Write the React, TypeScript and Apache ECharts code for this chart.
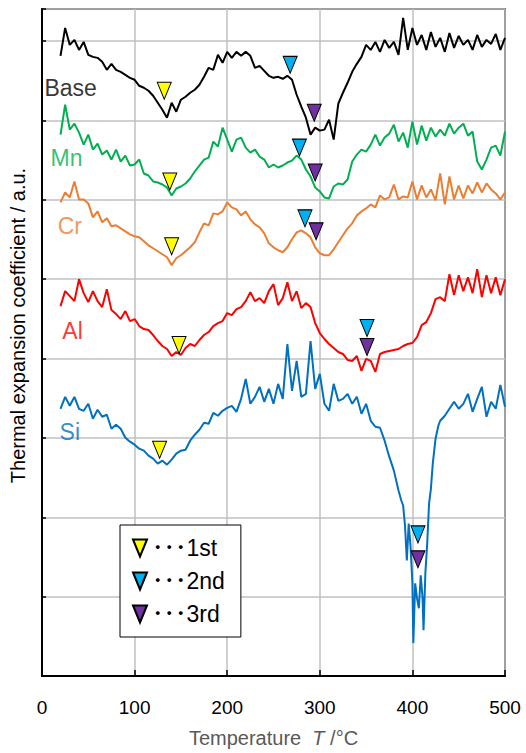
import React, { useEffect, useRef } from "react";
import * as echarts from "echarts";

// Temperatures (°C) shared by Base, Mn, Cr, Al
const temps = [
  20, 25, 30, 35, 40, 45, 50, 55, 60, 65,
  70, 75, 80, 85, 90, 95, 100, 105, 110, 115,
  120, 125, 130, 135, 140, 145, 150, 155, 160, 165,
  170, 175, 180, 185, 190, 195, 200, 205, 210, 215,
  220, 225, 230, 235, 240, 245, 250, 255, 260, 265,
  270, 275, 280, 285, 290, 295, 300, 305, 310, 315,
  320, 325, 330, 335, 340, 345, 350, 355, 360, 365,
  370, 375, 380, 385, 390, 395, 400, 405, 410, 415,
  420, 425, 430, 435, 440, 445, 450, 455, 460, 465,
  470, 475, 480, 485, 490, 495, 500,
];

// Thermal expansion coefficient (a.u., curves offset vertically)
const baseVals = [
  622, 650, 633, 638, 628, 636, 623, 621, 620, 616,
  608, 614, 608, 606, 603, 600, 598, 592, 590, 587,
  582, 575, 568, 560, 575, 566, 578, 581, 585, 588,
  593, 601, 610, 608, 623, 615, 626, 620, 626, 622,
  626, 622, 610, 612, 607, 602, 600, 601, 599, 602,
  598, 583, 571, 560, 543, 550, 547, 548, 558, 538,
  574, 585, 595, 606, 614, 621, 633, 628, 636, 626,
  638, 630, 636, 623, 660, 628, 650, 633, 643, 628,
  646, 631, 640, 626, 645, 630, 642, 633, 638, 628,
  643, 631, 638, 634, 644, 628, 640,
];

const mnVals = [
  543, 573, 548, 554, 545, 533, 543, 528, 534, 523,
  527, 518, 528, 516, 522, 512, 513, 518, 504, 502,
  496, 495, 493, 490, 482, 489, 491, 494, 499, 506,
  512, 518, 520, 536, 531, 550, 538, 526, 538, 540,
  530, 525, 528, 521, 518, 510, 513, 510, 512, 515,
  517, 522, 518, 508, 501, 490, 486, 480, 479, 491,
  494, 493, 498, 516, 523, 528, 526, 533, 543, 532,
  540, 544, 553, 536, 545, 530, 556, 533, 552, 537,
  550, 541, 548, 542, 554, 544, 550, 554, 542, 546,
  516, 508, 518, 530, 532, 522, 546,
];

const crVals = [
  475, 485, 480, 496, 478, 478, 474, 460, 466, 455,
  459, 451, 452, 449, 446, 443, 441, 440, 436, 432,
  429, 426, 423, 420, 412, 419, 422, 426, 430, 435,
  445, 454, 452, 464, 463, 466, 475, 470, 468, 462,
  466, 458, 453, 450, 444, 434, 430, 427, 425, 430,
  438, 445, 447, 444, 440, 430, 424, 422, 422, 428,
  435, 442, 449, 454, 462, 466, 469, 473, 470, 482,
  478, 480, 493, 478, 481, 480, 496, 478, 492, 480,
  488, 477, 504, 473, 501, 478, 492, 479, 492, 484,
  495, 485, 494, 488, 484, 478, 485,
];

const alVals = [
  371, 386, 381, 376, 398, 384, 375, 386, 376, 370,
  388, 367, 363, 358, 366, 356, 358, 351, 348, 347,
  342, 336, 331, 328, 321, 325, 322, 329, 333, 331,
  337, 342, 345, 351, 354, 356, 364, 362, 368, 370,
  376, 385, 376, 379, 374, 386, 393, 372, 379, 395,
  376, 386, 369, 374, 370, 354, 344, 338, 333, 329,
  325, 323, 317, 316, 321, 306, 318, 316, 305, 323,
  325, 326, 327, 328, 331, 333, 334, 340, 352, 355,
  364, 378, 380, 376, 403, 382, 402, 386, 400, 384,
  408, 380, 402, 384, 400, 382, 398,
];

// Si has its own, finer temperature grid around the deep dip
const siTemps = [
  20, 25, 30, 35, 40, 45, 50, 55, 60, 65,
  70, 75, 80, 85, 90, 95, 100, 105, 110, 115,
  120, 125, 130, 135, 140, 145, 150, 155, 160, 165,
  170, 175, 180, 185, 190, 195, 200, 205, 210, 215,
  220, 225, 230, 235, 240, 245, 250, 255, 260, 265,
  270, 275, 280, 285, 290, 295, 300, 305, 310, 315,
  320, 325, 330, 335, 340, 345, 350, 355, 360, 365,
  370, 375, 380,
  385, 388, 390, 392, 394, 396, 398, 400, 401, 403,
  405, 407, 409, 411, 412, 414, 416, 418, 420, 422,
  425, 428, 430,
  435, 440, 445, 450, 455, 460, 465, 470, 475, 480,
  485, 490, 495, 500,
];

const siVals = [
  268, 280, 271, 280, 268, 266, 273, 258, 267, 260,
  262, 248, 252, 248, 239, 235, 232, 228, 226, 221,
  218, 213, 216, 212, 217, 223, 226, 227, 236, 242,
  247, 254, 253, 264, 261, 266, 269, 271, 265, 278,
  298, 273, 280, 290, 275, 288, 273, 293, 278, 333,
  286, 316, 280, 283, 336, 288, 303, 273, 266, 293,
  276, 278, 283, 273, 280, 263, 273, 256, 250, 249,
  236, 220, 206,
  186, 176, 171, 151, 116, 153, 130, 93, 33, 93,
  78, 68, 101, 78, 46, 103, 133, 173, 188, 213,
  238, 251, 256,
  261, 268, 275, 268, 273, 283, 265, 278, 290, 260,
  275, 268, 292, 270,
];

// Transformation markers (order: Base, Mn, Cr, Al, Si)
const firstT = [132, 138, 140, 148, 127];
const firstV = [587, 496, 431, 332, 227];
const secondT = [268, 278, 284, 351, 406];
const secondV = [613, 530, 459, 349, 142];
const thirdT = [294, 295, 296, 351, 406];
const thirdV = [565, 505, 446, 330, 117];

// Curve name annotations
const curveNames = ["Base", "Mn", "Cr", "Al", "Si"];
const curveNameT = [31, 26.5, 30, 33, 30];
const curveNameV = [590, 520, 451, 346, 245];

const curveColors = ["#000000", "#00B050", "#ED7D31", "#FF0000", "#0070C0"];
const markerNames = ["･･･1st", "･･･2nd", "･･･3rd"];
const markerColors = ["#FFFF00", "#00B0F0", "#7030A0"];

const FONT = "'Liberation Sans', Arial, 'Noto Sans CJK JP', sans-serif";
const TRI = "path://M0,0L14,0L7,17Z";

export default function App() {
  const ref = useRef<HTMLDivElement>(null);

  useEffect(() => {
    if (!ref.current) return;
    const chart = echarts.init(ref.current, undefined, { renderer: "svg" });

    const curves = [
      { name: "Base", t: temps, v: baseVals },
      { name: "Mn", t: temps, v: mnVals },
      { name: "Cr", t: temps, v: crVals },
      { name: "Al", t: temps, v: alVals },
      { name: "Si", t: siTemps, v: siVals },
    ];

    const lineSeries = curves.map((c, k) => ({
      type: "line",
      name: c.name,
      data: c.t.map((t, i) => [t, c.v[i]]),
      showSymbol: false,
      symbol: "none",
      lineStyle: { color: curveColors[k], width: 2 },
      itemStyle: { color: curveColors[k] },
      z: 2,
      silent: true,
    }));

    const markerSets = [
      [firstT, firstV],
      [secondT, secondV],
      [thirdT, thirdV],
    ];
    const markerSeries = markerSets.map((m, k) => ({
      type: "scatter",
      name: markerNames[k],
      data: m[0].map((t, i) => [t, m[1][i]]),
      symbol: TRI,
      symbolSize: [14, 17],
      itemStyle: { color: markerColors[k], borderColor: "#000", borderWidth: 1, opacity: 1 },
      z: 5,
      silent: true,
    }));

    const labelSeries = {
      type: "scatter",
      name: "labels",
      data: curveNames.map((n, i) => ({
        value: [curveNameT[i], curveNameV[i]],
        name: n,
        label: { color: curveColors[i] },
      })),
      symbol: "circle",
      symbolSize: 1,
      itemStyle: { color: "rgba(0,0,0,0)" },
      label: {
        show: true,
        position: "inside",
        formatter: (p: any) => p.name,
        fontSize: 23,
        fontFamily: FONT,
      },
      z: 4,
      silent: true,
    };

    chart.setOption({
      animation: false,
      backgroundColor: "#fff",
      textStyle: { fontFamily: FONT },
      grid: {
        left: 42,
        right: 21,
        top: 9,
        bottom: 75,
        show: true,
        borderColor: "#000",
        borderWidth: 1.5,
        backgroundColor: "transparent",
      },
      legend: {
        orient: "vertical",
        left: 120,
        top: 525,
        padding: [10, 16, 10, 12],
        itemWidth: 14,
        itemHeight: 17,
        itemGap: 7,
        borderColor: "#000",
        borderWidth: 1,
        backgroundColor: "#fff",
        selectedMode: false,
        textStyle: { fontSize: 23, lineHeight: 26, color: "#000", fontFamily: FONT },
        data: markerNames.map((n) => ({ name: n, icon: TRI })),
      },
      xAxis: {
        type: "value",
        min: 0,
        max: 500,
        interval: 100,
        name: "{a|Temperature  }{b|T}{a| /°C}",
        nameLocation: "middle",
        nameGap: 52,
        nameTextStyle: {
          rich: {
            a: { fontSize: 20, color: "#595959", fontFamily: FONT },
            b: { fontSize: 20, color: "#595959", fontStyle: "italic", fontFamily: FONT },
          },
        },
        axisLine: { show: true, lineStyle: { color: "#000", width: 2 } },
        axisTick: { show: true, inside: true, length: 6, lineStyle: { color: "#000", width: 1.5 } },
        axisLabel: { show: true, color: "#000", fontSize: 19, margin: 22, fontFamily: FONT },
        splitLine: { show: true, lineStyle: { color: "#c0c0c0", width: 1.5 } },
      },
      yAxis: {
        type: "value",
        min: 0,
        max: 669,
        interval: 79.6,
        name: "Thermal expansion coefficient / a.u.",
        nameLocation: "middle",
        nameGap: 14,
        nameTextStyle: { fontSize: 20, color: "#000", fontFamily: FONT, padding: [0, 0, 0, 34] },
        axisLine: { show: true, lineStyle: { color: "#000", width: 2 } },
        axisTick: { show: true, inside: true, length: 4, lineStyle: { color: "#000", width: 1.5 } },
        axisLabel: { show: false },
        splitLine: { show: true, lineStyle: { color: "#c0c0c0", width: 1.5 } },
      },
      series: [...lineSeries, labelSeries, ...markerSeries],
    });

    return () => chart.dispose();
  }, []);

  return (
    <div
      ref={ref}
      style={{ position: "fixed", left: 0, top: 0, width: 526, height: 753, background: "#fff" }}
    />
  );
}
